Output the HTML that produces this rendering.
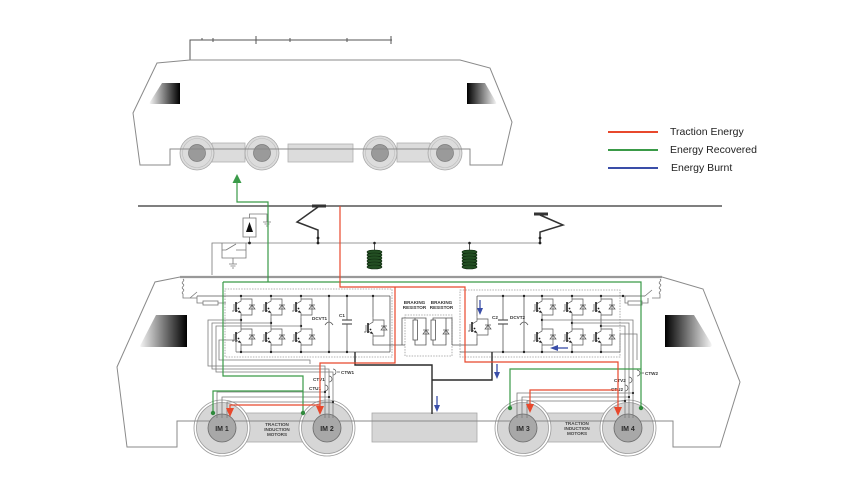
<!DOCTYPE html>
<html><head><meta charset="utf-8"><style>
html,body{margin:0;padding:0;background:#fff;}
svg{display:block;}
text{font-family:"Liberation Sans",sans-serif;}
</style></head><body>
<svg width="850" height="495" viewBox="0 0 850 495" xmlns="http://www.w3.org/2000/svg" xmlns:xlink="http://www.w3.org/1999/xlink">
<defs>
<linearGradient id="wl" x1="0" x2="1" y1="0" y2="0"><stop offset="0" stop-color="#f4f4f4"/><stop offset="1" stop-color="#000"/></linearGradient>
<linearGradient id="wr" x1="0" x2="1" y1="0" y2="0"><stop offset="0" stop-color="#000"/><stop offset="1" stop-color="#f4f4f4"/></linearGradient>
<g id="ig">
 <path d="M0,-11 V-6 L-5,-3 M-5,3 L0,6 V11 M-7,-3 V4 M-9,4 H-7 M0,-8 H11 V8 H0 M8,-2 H14" fill="none" stroke="#555" stroke-width="0.7"/>
 <path d="M-5,-5 V5" stroke="#222" stroke-width="1.6"/>
 <polygon points="8,2 14,2 11,-2" fill="none" stroke="#555" stroke-width="0.7"/>
 <polygon points="0,6 -3.2,5.2 -1.2,3.4" fill="#222"/>
 <circle cx="-2.5" cy="1.5" r="0.9" fill="#222"/>
</g>
<g id="coil">
 <rect x="-7" y="0" width="14" height="18" rx="3" fill="#1d4a1d"/>
 <g fill="#234f23" stroke="#0c260c" stroke-width="0.6">
  <ellipse cx="0" cy="2" rx="7.5" ry="2"/><ellipse cx="0" cy="5" rx="7.5" ry="2"/><ellipse cx="0" cy="8" rx="7.5" ry="2"/>
  <ellipse cx="0" cy="11" rx="7.5" ry="2"/><ellipse cx="0" cy="14" rx="7.5" ry="2"/><ellipse cx="0" cy="17" rx="7.5" ry="2"/>
 </g>
</g>
</defs>

<!-- ================= TOP LOCOMOTIVE ================= -->
<g stroke="#555" stroke-width="1" fill="none">
 <polyline points="190,60 190,40 392,40"/>
 <path d="M202,40 v-2 M213,38 v4 M256,36 v8 M290,38 v4 M347,38 v4 M391,36 v8"/>
</g>
<g fill="#dcdcdc" stroke="#b0b0b0" stroke-width="0.8">
 <rect x="212" y="143" width="33" height="19"/>
 <rect x="288" y="144" width="65" height="18"/>
 <rect x="397" y="143" width="33" height="19"/>
</g>
<g>
 <g fill="#dcdcdc" stroke="#a8a8a8" stroke-width="0.8">
  <circle cx="197" cy="153" r="17"/><circle cx="262" cy="153" r="17"/><circle cx="380" cy="153" r="17"/><circle cx="445" cy="153" r="17"/>
 </g>
 <g fill="none" stroke="#bdbdbd" stroke-width="0.6">
  <circle cx="197" cy="153" r="14.5"/><circle cx="262" cy="153" r="14.5"/><circle cx="380" cy="153" r="14.5"/><circle cx="445" cy="153" r="14.5"/>
 </g>
 <g fill="#9a9a9a" stroke="#7a7a7a" stroke-width="0.7">
  <circle cx="197" cy="153" r="8.5"/><circle cx="262" cy="153" r="8.5"/><circle cx="380" cy="153" r="8.5"/><circle cx="445" cy="153" r="8.5"/>
 </g>
</g>
<polygon points="157,63 190,60 460,60 490,68 512,122 502,165 470,165 470,149 170,149 170,165 140,165 133,113" fill="none" stroke="#8a8a8a" stroke-width="1"/>
<path d="M162,83 H180 V104 H151 Q149,104 150,102 Z" fill="url(#wl)"/>
<path d="M467,83 H485 L496,102 Q497,104 495,104 H467 Z" fill="url(#wr)"/>

<!-- Legend -->
<g stroke-width="2">
 <line x1="608" y1="132" x2="658" y2="132" stroke="#e8482c"/>
 <line x1="608" y1="150" x2="658" y2="150" stroke="#3a9a48"/>
 <line x1="608" y1="168" x2="658" y2="168" stroke="#3a4ea8"/>
</g>
<g font-size="10.5" fill="#222">
 <text x="670" y="135">Traction Energy</text>
 <text x="670" y="153">Energy Recovered</text>
 <text x="671" y="171">Energy Burnt</text>
</g>

<!-- ================= CATENARY / ROOF EQUIPMENT ================= -->
<line x1="138" y1="206" x2="722" y2="206" stroke="#555" stroke-width="1.5"/>
<g stroke="#777" stroke-width="0.8" fill="none">
 <polyline points="212,275 212,243 540,243"/>
 <path d="M222,243 V258 H246 V243 M226,250 L236,244 M222,250 H226 M236,250 H246 M233,258 V264 M229,264 H237 M230.5,266 H235.5 M232,268 H234"/>
 <rect x="243" y="218" width="13" height="19" fill="#fff"/>
 <path d="M249.5,237 V243 M249.5,218 V214 H267 V222 M263,222 H271 M264.5,224 H269.5 M266,226 H268"/>
</g>
<polygon points="246,232 253,232 249.5,222" fill="#111"/>
<g stroke="#333" fill="none">
 <line x1="312" y1="206" x2="326" y2="206" stroke-width="3"/>
 <polyline points="318,207 297,222 318,230 318,243" stroke-width="1.5"/>
 <line x1="534" y1="214" x2="548" y2="214" stroke-width="3"/>
 <polyline points="540,215 563,225 540,232 540,243" stroke-width="1.5"/>
 <line x1="374.5" y1="243" x2="374.5" y2="250" stroke-width="0.8"/>
 <line x1="469.5" y1="243" x2="469.5" y2="250" stroke-width="0.8"/>
</g>
<g fill="#222">
 <circle cx="249.5" cy="243" r="1.4"/><circle cx="318" cy="238" r="1.4"/><circle cx="318" cy="243" r="1.4"/>
 <circle cx="540" cy="238" r="1.4"/><circle cx="540" cy="243" r="1.4"/>
 <circle cx="374.5" cy="243" r="1.3"/><circle cx="469.5" cy="243" r="1.3"/>
</g>
<use href="#coil" xlink:href="#coil" x="374.5" y="250"/>
<use href="#coil" xlink:href="#coil" x="469.5" y="250"/>

<!-- ================= LOWER LOCOMOTIVE BODY ================= -->
<g fill="#d6d6d6" stroke="#a8a8a8" stroke-width="0.8">
 <rect x="238" y="413" width="65" height="29"/>
 <rect x="547" y="413" width="60" height="29"/>
 <rect x="372" y="413" width="105" height="29"/>
</g>
<g fill="none" stroke="#8a8a8a" stroke-width="1">
 <polyline points="180,277 155,282 117,367 127,447 177,447 177,421 673,421 673,447 720,447 740,382 703,289 662,277"/>
</g>
<line x1="180" y1="277" x2="662" y2="277" stroke="#999" stroke-width="2.2"/>
<path d="M156,315 H187 V347 H142 Q139,347 141,344 Z" fill="url(#wl)"/>
<path d="M665,315 H694 L711,343 Q713,347 709,347 H665 Z" fill="url(#wr)"/>

<!-- motors -->
<g>
 <g fill="#fff" stroke="#9a9a9a" stroke-width="0.8">
  <circle cx="222" cy="428" r="28"/><circle cx="327" cy="428" r="28"/><circle cx="523" cy="428" r="28"/><circle cx="628" cy="428" r="28"/>
 </g>
 <g fill="#d6d6d6" stroke="#9a9a9a" stroke-width="0.8">
  <circle cx="222" cy="428" r="25.5"/><circle cx="327" cy="428" r="25.5"/><circle cx="523" cy="428" r="25.5"/><circle cx="628" cy="428" r="25.5"/>
 </g>
 <line x1="177" y1="421" x2="673" y2="421" stroke="#8a8a8a" stroke-width="0.9"/>
 <g fill="#a8a8a8" stroke="#6a6a6a" stroke-width="0.8">
  <circle cx="222" cy="428" r="14"/><circle cx="327" cy="428" r="14"/><circle cx="523" cy="428" r="14"/><circle cx="628" cy="428" r="14"/>
 </g>
 <g font-size="7" font-weight="bold" fill="#2a2a2a" text-anchor="middle">
  <text x="222" y="431">IM 1</text><text x="327" y="431">IM 2</text><text x="523" y="431">IM 3</text><text x="628" y="431">IM 4</text>
 </g>
 <g font-size="4.6" font-weight="bold" fill="#444" text-anchor="middle">
  <text x="277" y="426">TRACTION</text><text x="277" y="431">INDUCTION</text><text x="277" y="436">MOTORS</text>
  <text x="577" y="425">TRACTION</text><text x="577" y="430">INDUCTION</text><text x="577" y="435">MOTORS</text>
 </g>
</g>

<!-- ================= INVERTERS ================= -->
<g fill="none" stroke="#9a9a9a" stroke-width="0.8" stroke-dasharray="1.5,1.2">
 <rect x="225" y="289" width="167" height="68"/>
 <rect x="460" y="290" width="160" height="67"/>
 <rect x="405" y="315" width="47" height="41"/>
</g>
<g fill="none" stroke="#555" stroke-width="0.8">
 <line x1="197" y1="296" x2="390" y2="296"/>
 <line x1="236" y1="352" x2="390" y2="352"/>
 <path d="M241,318 V326 M271,318 V326 M301,318 V326 M241,348 V352 M271,348 V352 M301,348 V352"/>
 <line x1="329" y1="296" x2="329" y2="352"/>
 <line x1="347" y1="296" x2="347" y2="320"/><line x1="347" y1="324" x2="347" y2="352"/>
 <line x1="342" y1="320" x2="352" y2="320" stroke-width="1.2"/><line x1="342" y1="324" x2="352" y2="324" stroke-width="1.2"/>
 <path d="M325,325 Q329,319 333,325"/>
 <line x1="373" y1="296" x2="373" y2="317"/>
 <polyline points="373,339 373,345 405,345"/>
 <line x1="390" y1="296" x2="390" y2="352"/>
 <line x1="477" y1="296" x2="645" y2="296"/>
 <line x1="460" y1="352" x2="620" y2="352"/>
 <path d="M542,318 V326 M572,318 V326 M601,318 V326 M542,348 V352 M572,348 V352 M601,348 V352"/>
 <line x1="503" y1="296" x2="503" y2="320"/><line x1="503" y1="324" x2="503" y2="352"/>
 <line x1="498" y1="320" x2="508" y2="320" stroke-width="1.2"/><line x1="498" y1="324" x2="508" y2="324" stroke-width="1.2"/>
 <line x1="524" y1="296" x2="524" y2="352"/>
 <path d="M520,325 Q524,319 528,325"/>
 <line x1="477" y1="296" x2="477" y2="316"/>
 <polyline points="477,338 477,345 452,345"/>
 <path d="M402,345 V318 H426 V345 H415 V340 M415,318 V320"/>
 <path d="M452,345 V318 H433 V320 M433,340 V345 H446 V318"/>
 <rect x="413" y="320" width="4.5" height="20" fill="#fff"/>
 <rect x="431" y="320" width="4.5" height="20" fill="#fff"/>
</g>
<g fill="none" stroke="#555" stroke-width="0.7">
 <polygon points="423,334 429,334 426,330"/><path d="M423,330 H429"/>
 <polygon points="443,334 449,334 446,330"/><path d="M443,330 H449"/>
</g>
<use href="#ig" xlink:href="#ig" x="241" y="307"/>
<use href="#ig" xlink:href="#ig" x="271" y="307"/>
<use href="#ig" xlink:href="#ig" x="301" y="307"/>
<use href="#ig" xlink:href="#ig" x="241" y="337"/>
<use href="#ig" xlink:href="#ig" x="271" y="337"/>
<use href="#ig" xlink:href="#ig" x="301" y="337"/>
<use href="#ig" xlink:href="#ig" x="373" y="328"/>
<use href="#ig" xlink:href="#ig" x="542" y="307"/>
<use href="#ig" xlink:href="#ig" x="572" y="307"/>
<use href="#ig" xlink:href="#ig" x="601" y="307"/>
<use href="#ig" xlink:href="#ig" x="542" y="337"/>
<use href="#ig" xlink:href="#ig" x="572" y="337"/>
<use href="#ig" xlink:href="#ig" x="601" y="337"/>
<use href="#ig" xlink:href="#ig" x="477" y="327"/>
<g fill="#222">
 <circle cx="241" cy="296" r="1.2"/><circle cx="271" cy="296" r="1.2"/><circle cx="301" cy="296" r="1.2"/><circle cx="329" cy="296" r="1.2"/><circle cx="347" cy="296" r="1.2"/><circle cx="373" cy="296" r="1.2"/>
 <circle cx="241" cy="352" r="1.2"/><circle cx="271" cy="352" r="1.2"/><circle cx="301" cy="352" r="1.2"/><circle cx="329" cy="352" r="1.2"/><circle cx="347" cy="352" r="1.2"/>
 <circle cx="241" cy="320" r="1.2"/><circle cx="271" cy="323" r="1.2"/><circle cx="301" cy="326" r="1.2"/>
 <circle cx="503" cy="296" r="1.2"/><circle cx="524" cy="296" r="1.2"/><circle cx="542" cy="296" r="1.2"/><circle cx="572" cy="296" r="1.2"/><circle cx="601" cy="296" r="1.2"/><circle cx="623" cy="296" r="1.2"/>
 <circle cx="503" cy="352" r="1.2"/><circle cx="524" cy="352" r="1.2"/><circle cx="542" cy="352" r="1.2"/><circle cx="572" cy="352" r="1.2"/><circle cx="601" cy="352" r="1.2"/>
 <circle cx="542" cy="320" r="1.2"/><circle cx="572" cy="323" r="1.2"/><circle cx="601" cy="326" r="1.2"/>
</g>
<g font-size="4.6" font-weight="bold" fill="#333">
 <text x="312" y="320">DCVT1</text><text x="339" y="317">C1</text>
 <text x="492" y="319">C2</text><text x="510" y="319">DCVT2</text>
 <text x="414.5" y="304" text-anchor="middle">BRAKING</text><text x="414.5" y="309" text-anchor="middle">RESISTOR</text>
 <text x="441.5" y="304" text-anchor="middle">BRAKING</text><text x="441.5" y="309" text-anchor="middle">RESISTOR</text>
</g>

<g fill="none" stroke="#777" stroke-width="0.8">
 <path d="M183,279 c3,2 -3,3 0,5 c3,2 -3,3 0,5 c3,2 -3,3 0,5 V298 H197"/>
 <path d="M197,296 V303 H203 M218,303 H226"/>
 <rect x="203" y="301" width="15" height="4"/>
 <path d="M190,298 L197,292"/>
 <path d="M660,279 c3,2 -3,3 0,5 c3,2 -3,3 0,5 c3,2 -3,3 0,5 V298 H652"/>
 <path d="M645,296 L652,290 M625,296 V303 H628 M642,303 H648 V298"/>
 <rect x="628" y="301" width="14" height="4"/>
</g>

<!-- ================= PHASE WIRES (grey) ================= -->
<g fill="none" stroke="#7a7a7a" stroke-width="0.8">
 <polyline points="241,320 208,320 208,366 325,366 325,418"/>
 <polyline points="271,323 212,323 212,369 329,369 329,418"/>
 <polyline points="301,326 216,326 216,372 333,372 333,418"/>
 <polyline points="325,392 217,392 217,418"/>
 <polyline points="329,397 222,397 222,418"/>
 <polyline points="333,402 227,402 227,418"/>
 <polyline points="236,352 236,340 219,340 219,360 310,360 310,364"/>
 <polyline points="542,320 633,320 633,418"/>
 <polyline points="572,323 629,323 629,418"/>
 <polyline points="601,326 625,326 625,418"/>
 <polyline points="633,393 517,393 517,418"/>
 <polyline points="629,397 522,397 522,418"/>
 <polyline points="625,401 527,401 527,418"/>
 <polyline points="620,352 620,334 637,334 637,360"/>
</g>
<g fill="none" stroke="#555" stroke-width="0.7">
 <path d="M333,369 a3,3 0 0 1 0,6 M329,376 a3,3 0 0 1 0,6 M325,385 a3,3 0 0 1 0,6"/>
 <path d="M637,370 a3,3 0 0 1 0,6 M629,377 a3,3 0 0 1 0,6 M625,385 a3,3 0 0 1 0,6"/>
 <path d="M337,372 H340 M641,373 H644"/>
</g>
<g font-size="4.6" font-weight="bold" fill="#333">
 <text x="341" y="374">CTW1</text><text x="313" y="381">CTV1</text><text x="309" y="390">CTU1</text>
 <text x="645" y="375">CTW2</text><text x="614" y="382">CTV2</text><text x="611" y="391">CTU2</text>
</g>
<g fill="#222">
 <circle cx="325" cy="392" r="1.1"/><circle cx="329" cy="397" r="1.1"/><circle cx="333" cy="402" r="1.1"/>
 <circle cx="633" cy="393" r="1.1"/><circle cx="629" cy="397" r="1.1"/><circle cx="625" cy="401" r="1.1"/>
</g>

<!-- ================= ENERGY PATHS ================= -->
<g fill="none" stroke="#2a2a2a" stroke-width="1.4">
 <polyline points="355,352 355,365 432,365 432,414"/>
 <polyline points="492,352 492,380 432,380"/>
</g>
<g fill="none" stroke="#3a9a48" stroke-width="1.2">
 <polyline points="237,182 237,202 268,202 268,282"/>
 <polyline points="223,282 641,282 641,410"/>
 <polyline points="223,282 223,376 303,376 303,412"/>
 <polyline points="303,391 213,391 213,412"/>
 <polyline points="641,369 510,369 510,407"/>
</g>
<polygon points="232.5,183 241.5,183 237,174" fill="#3a9a48"/>
<g fill="#2f8a3c">
 <circle cx="303" cy="413" r="2.2"/><circle cx="213" cy="413" r="2.2"/>
 <circle cx="510" cy="408" r="2.2"/><circle cx="641" cy="408" r="2.2"/>
</g>
<g fill="none" stroke="#e8482c" stroke-width="1.2">
 <polyline points="340,206 340,287 465,287 465,362 618,362 618,408"/>
 <polyline points="395,287 395,363 320,363 320,407"/>
 <polyline points="320,405 230,405 230,409"/>
 <polyline points="618,390 530,390 530,405"/>
</g>
<g fill="#e8482c">
 <polygon points="316,406 324,406 320,415"/>
 <polygon points="226,408 234,408 230,417"/>
 <polygon points="614,407 622,407 618,416"/>
 <polygon points="526,404 534,404 530,413"/>
</g>
<g stroke="#3a4ea8" stroke-width="1.3" fill="none">
 <line x1="480" y1="300" x2="480" y2="309"/>
 <line x1="568" y1="348" x2="557" y2="348"/>
 <line x1="497" y1="364" x2="497" y2="373"/>
 <line x1="437" y1="396" x2="437" y2="406"/>
</g>
<g fill="#3a4ea8">
 <polygon points="477,308 483,308 480,315"/>
 <polygon points="558,345 558,351 550,348"/>
 <polygon points="494,372 500,372 497,379"/>
 <polygon points="434,405 440,405 437,412"/>
</g>
</svg>
</body></html>
